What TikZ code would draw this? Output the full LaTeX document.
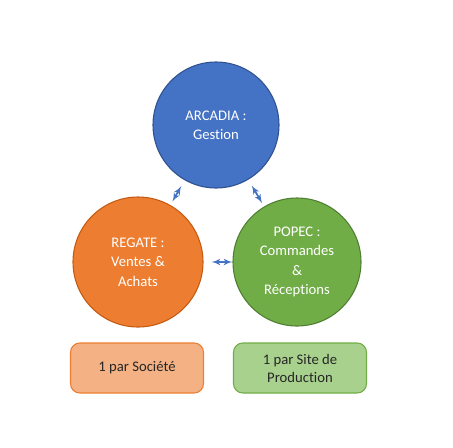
\documentclass[tikz,border=0pt]{standalone}
\usepackage{fontspec}
\setmainfont{Carlito}[Ligatures=NoCommon]
\usetikzlibrary{arrows}

\definecolor{bleu}{HTML}{4472C4}
\definecolor{bleufonce}{HTML}{2F528F}
\definecolor{orange}{HTML}{ED7D31}
\definecolor{orangefonce}{HTML}{C55A11}
\definecolor{vert}{HTML}{70AD47}
\definecolor{vertfonce}{HTML}{507E32}
\definecolor{orangeclair}{HTML}{F4B183}
\definecolor{vertclair}{HTML}{A9D18E}
\definecolor{texte}{HTML}{262626}

\begin{document}
\begin{tikzpicture}[x=0.75pt,y=-0.75pt]

\tikzset{logiciel/.style = {shape=circle,draw,line width=0.8pt,text=white,align=center,
  font=\fontsize{11}{14.5}\selectfont}}
\tikzset{cadre/.style = {draw,rounded corners=7pt,line width=0.8pt,text=texte,align=center,
  minimum width=133*0.75pt,minimum height=50*0.75pt,font=\fontsize{11}{13.5}\selectfont}}
\tikzset{lien/.style = {<->,> = latex',draw=bleu,fill=bleu,line width=1.3pt}}

\useasboundingbox (0,0) rectangle (453,447);
%cercles
\node[logiciel, fill=bleu, draw=bleufonce, minimum size=126*0.75pt] (arcadia) at (216,125) {ARCADIA :\\Gestion};
\node[logiciel, fill=orange, draw=orangefonce, minimum size=130*0.75pt] (regate) at (138,262) {REGATE :\\Ventes \&\\Achats};
\node[logiciel, fill=vert, draw=vertfonce, minimum size=128*0.75pt] (popec) at (297,262) {POPEC :\\Commandes\\\&\\Réceptions};
%cadres
\node[cadre, fill=orangeclair, draw=orange] (societe) at (137,368) {1 par Société};
\node[cadre, fill=vertclair, draw=vert] (site) at (300,368) {1 par Site de\\Production};
%liens
\draw[lien, shorten <=5pt, shorten >=3pt] (arcadia) -- (regate);
\draw[lien, shorten <=5pt, shorten >=3pt] (arcadia) -- (popec);
\draw[lien, shorten <=6pt, shorten >=0pt] (regate) -- (popec);

\end{tikzpicture}
\end{document}
